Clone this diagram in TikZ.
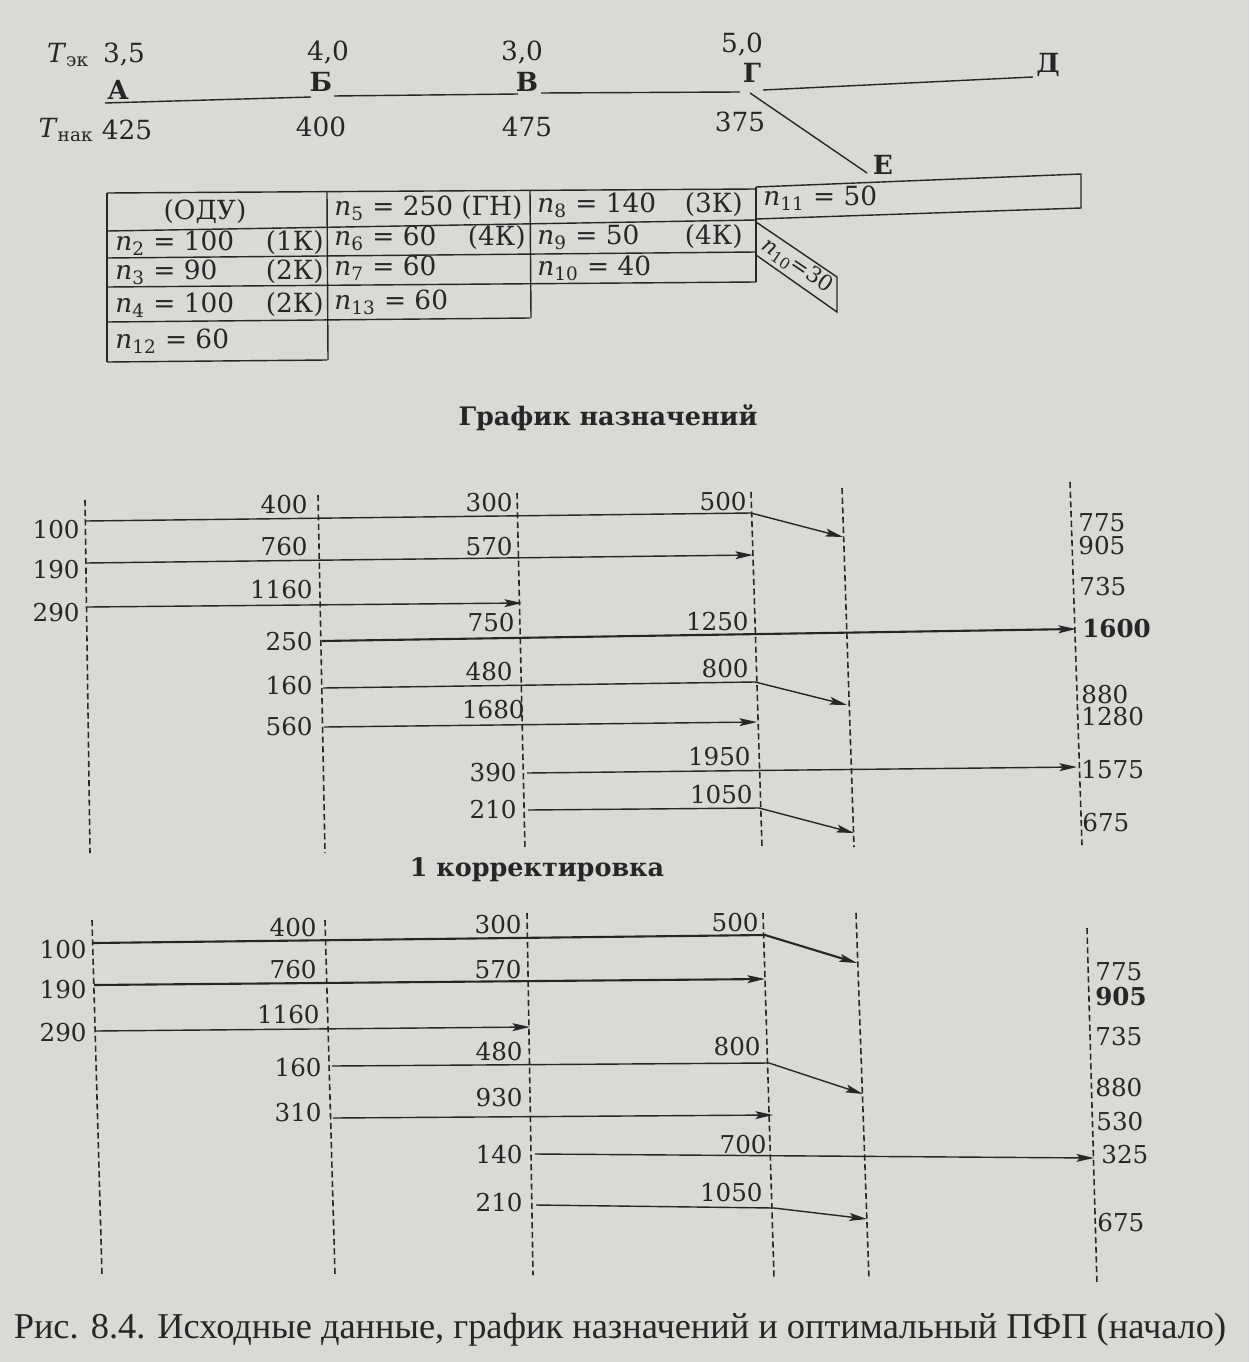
\documentclass[tikz,border=0pt]{standalone}
\usepackage{amsmath}
\usepackage{fontspec}
\setmainfont{DejaVu Serif}
\newfontfamily\capfont{Liberation Serif}
\usetikzlibrary{arrows.meta}
\definecolor{paper}{RGB}{217,217,214}
\definecolor{ink}{RGB}{38,38,38}
\newcommand{\nv}[2]{\textit{n}$_{\text{#1}}$ = #2}

\begin{document}
\begin{tikzpicture}[
x=0.02cm,y=-0.02cm,
>={Stealth[length=10pt,width=4.5pt,inset=2pt]},
top/.style={font=\fontsize{15}{17}\selectfont,text=ink,inner sep=0pt},
letter/.style={font=\bfseries\fontsize{15}{17}\selectfont,text=ink,inner sep=0pt},
cell/.style={font=\fontsize{15}{17}\selectfont,text=ink,inner sep=0pt},
num/.style={font=\fontsize{14}{16}\selectfont,text=ink,inner sep=0pt,anchor=east},
res/.style={font=\fontsize{14}{16}\selectfont,text=ink,inner sep=0pt,anchor=west},
heading/.style={font=\bfseries\fontsize{14.5}{17}\selectfont,text=ink},
road/.style={draw=ink,line width=0.8pt},
grid/.style={draw=ink,line width=0.8pt},
vline/.style={draw=ink,line width=0.9pt,dash pattern=on 3.5pt off 2pt},
flow/.style={->,draw=ink,line width=0.8pt},
mainflow/.style={flow,line width=1.2pt}
]

\useasboundingbox (0,0) rectangle (1249,1362);
\fill[paper] (0,0) rectangle (1249,1362);

\node[top] (tek) at (68,55) {\textit{T}$_{\text{эк}}$};
\node[top] (e35) at (124,55) {3,5};
\node[top] (e40) at (328,53) {4,0};
\node[top] (e30) at (522,53) {3,0};
\node[top] (e50) at (742,45) {5,0};
\node[letter] (stA) at (118,90) {А};
\node[letter] (stB) at (321,82) {Б};
\node[letter] (stV) at (527,82) {В};
\node[letter] (stG) at (752,73) {Г};
\node[letter] (stD) at (1048,65) {Д};
\node[letter] (stE) at (883,165) {Е};
\node[top] (tnak) at (66,130) {\textit{T}$_{\text{нак}}$};
\node[top] (h425) at (127,130) {425};
\node[top] (h400) at (321,127) {400};
\node[top] (h475) at (527,127) {475};
\node[top] (h375) at (740,122) {375};

\coordinate (rA) at (105,103);
\coordinate (rB1) at (311,97);
\coordinate (rB2) at (334,96);
\coordinate (rV1) at (518,94);
\coordinate (rV2) at (541,93);
\coordinate (rG1) at (740,92);
\coordinate (rG2) at (763,90);
\coordinate (rD) at (1033,77);
\coordinate (rGE) at (750,93);
\coordinate (rE) at (867,173);
\draw[road] (rA) -- (rB1);
\draw[road] (rB2) -- (rV1);
\draw[road] (rV2) -- (rG1);
\draw[road] (rG2) -- (rD);
\draw[road] (rGE) -- (rE);

\draw[grid] (107,193) -- (756,189);
\draw[grid] (107,231) -- (756,220);
\draw[grid] (107,258) -- (756,252);
\draw[grid] (107,287) -- (756,282);
\draw[grid] (107,322) -- (530,318);
\draw[grid] (107,362) -- (327,360);
\draw[grid] (107,193) -- (107,362);
\draw[grid] (327,192) -- (328,360);
\draw[grid] (530,190) -- (531,318);
\draw[grid] (756,187) -- (756,282);
\draw[grid] (756,187) -- (1081,174) -- (1081,208) -- (756,219);
\draw[grid] (756,222) -- (837,277) -- (837,312) -- (756,255);

\node[cell] (odu) at (205,212) {(ОДУ)};
\node[cell,anchor=west] (n2) at (115,243) {\nv{2}{100}};
\node[cell,anchor=east] (k2) at (324,243) {(1К)};
\node[cell,anchor=west] (n3) at (115,272) {\nv{3}{90}};
\node[cell,anchor=east] (k3) at (324,272) {(2К)};
\node[cell,anchor=west] (n4) at (115,305) {\nv{4}{100}};
\node[cell,anchor=east] (k4) at (324,305) {(2К)};
\node[cell,anchor=west] (n12) at (115,341) {\nv{12}{60}};
\node[cell,anchor=west] (n5) at (334,208) {\nv{5}{250} (ГН)};
\node[cell,anchor=west] (n6) at (334,238) {\nv{6}{60}};
\node[cell,anchor=east] (k6) at (526,238) {(4К)};
\node[cell,anchor=west] (n7) at (334,268) {\nv{7}{60}};
\node[cell,anchor=west] (n13) at (334,302) {\nv{13}{60}};
\node[cell,anchor=west] (n8) at (537,205) {\nv{8}{140}};
\node[cell,anchor=east] (k8) at (743,205) {(3К)};
\node[cell,anchor=west] (n9) at (537,237) {\nv{9}{50}};
\node[cell,anchor=east] (k9) at (743,237) {(4К)};
\node[cell,anchor=west] (n10) at (537,268) {\nv{10}{40}};
\node[cell,anchor=west] (n11) at (763,198) {\nv{11}{50}};
\node[cell,rotate=-34,font=\fontsize{12.5}{14}\selectfont] (n10d) at (797,266) {\textit{n}$_{\text{10}}$=30};

\node[heading] (plan) at (608,418) {График назначений};

\coordinate (aL1t) at (85,500);
\coordinate (aL1b) at (90,853);
\coordinate (aL2t) at (318,495);
\coordinate (aL2b) at (325,853);
\coordinate (aL3t) at (517,493);
\coordinate (aL3b) at (525,850);
\coordinate (aL4t) at (751,492);
\coordinate (aL4b) at (762,847);
\coordinate (aL5t) at (842,488);
\coordinate (aL5b) at (854,847);
\coordinate (aL6t) at (1070,482);
\coordinate (aL6b) at (1082,845);
\draw[vline] (aL1t) -- (aL1b);
\draw[vline] (aL2t) -- (aL2b);
\draw[vline] (aL3t) -- (aL3b);
\draw[vline] (aL4t) -- (aL4b);
\draw[vline] (aL5t) -- (aL5b);
\draw[vline] (aL6t) -- (aL6b);

\node[num] (a100) at (80,530) {100};
\node[num] (a190) at (80,570) {190};
\node[num] (a290) at (80,613) {290};
\node[num] (a400) at (308,505) {400};
\node[num] (a760) at (308,547) {760};
\node[num] (a1160) at (313,590) {1160};
\node[num] (a250) at (313,642) {250};
\node[num] (a160) at (313,686) {160};
\node[num] (a560) at (313,727) {560};
\node[num] (a300) at (513,503) {300};
\node[num] (a570) at (513,547) {570};
\node[num] (a750) at (515,623) {750};
\node[num] (a480) at (513,672) {480};
\node[num] (a1680) at (525,710) {1680};
\node[num] (a390) at (517,773) {390};
\node[num] (a210) at (517,810) {210};
\node[num] (a500) at (747,502) {500};
\node[num] (a1250) at (749,622) {1250};
\node[num] (a800) at (749,669) {800};
\node[num] (a1950) at (751,757) {1950};
\node[num] (a1050) at (753,795) {1050};
\node[res] (a775) at (1078,523) {775};
\node[res] (a905) at (1078,546) {905};
\node[res] (a735) at (1079,587) {735};
\node[res,font=\bfseries\fontsize{14}{16}\selectfont] (a1600) at (1082,629) {1600};
\node[res] (a880) at (1081,695) {880};
\node[res] (a1280) at (1081,717) {1280};
\node[res] (a1575) at (1081,770) {1575};
\node[res] (a675) at (1082,823) {675};

\coordinate (a1s) at (86,521);
\coordinate (a1m) at (751,513);
\coordinate (a1e) at (843,537);
\coordinate (a2s) at (86,563);
\coordinate (a2e) at (753,555);
\coordinate (a3s) at (87,607);
\coordinate (a3e) at (522,603);
\coordinate (a4s) at (322,641);
\coordinate (a4e) at (1076,629);
\coordinate (a5s) at (323,688);
\coordinate (a5m) at (755,682);
\coordinate (a5e) at (847,705);
\coordinate (a6s) at (324,727);
\coordinate (a6e) at (757,722);
\coordinate (a7s) at (527,773);
\coordinate (a7e) at (1077,767);
\coordinate (a8s) at (528,810);
\coordinate (a8m) at (759,808);
\coordinate (a8e) at (854,833);
\draw[flow] (a1s) -- (a1m) -- (a1e);
\draw[flow] (a2s) -- (a2e);
\draw[flow] (a3s) -- (a3e);
\draw[mainflow] (a4s) -- (a4e);
\draw[flow] (a5s) -- (a5m) -- (a5e);
\draw[flow] (a6s) -- (a6e);
\draw[flow] (a7s) -- (a7e);
\draw[flow] (a8s) -- (a8m) -- (a8e);

\node[heading] (corr) at (537,870) {1 корректировка};

\coordinate (bL1t) at (92,920);
\coordinate (bL1b) at (102,1275);
\coordinate (bL2t) at (325,920);
\coordinate (bL2b) at (335,1275);
\coordinate (bL3t) at (527,913);
\coordinate (bL3b) at (533,1275);
\coordinate (bL4t) at (763,913);
\coordinate (bL4b) at (774,1278);
\coordinate (bL5t) at (856,913);
\coordinate (bL5b) at (869,1280);
\coordinate (bL6t) at (1087,928);
\coordinate (bL6b) at (1097,1285);
\draw[vline] (bL1t) -- (bL1b);
\draw[vline] (bL2t) -- (bL2b);
\draw[vline] (bL3t) -- (bL3b);
\draw[vline] (bL4t) -- (bL4b);
\draw[vline] (bL5t) -- (bL5b);
\draw[vline] (bL6t) -- (bL6b);

\node[num] (b100) at (87,950) {100};
\node[num] (b190) at (87,990) {190};
\node[num] (b290) at (87,1033) {290};
\node[num] (b400) at (317,928) {400};
\node[num] (b760) at (317,970) {760};
\node[num] (b1160) at (320,1015) {1160};
\node[num] (b160) at (322,1068) {160};
\node[num] (b310) at (322,1113) {310};
\node[num] (b300) at (522,925) {300};
\node[num] (b570) at (522,970) {570};
\node[num] (b480) at (523,1052) {480};
\node[num] (b930) at (523,1098) {930};
\node[num] (b140) at (523,1155) {140};
\node[num] (b210) at (523,1203) {210};
\node[num] (b500) at (759,923) {500};
\node[num] (b800) at (761,1047) {800};
\node[num] (b700) at (767,1145) {700};
\node[num] (b1050) at (763,1193) {1050};
\node[res] (b775) at (1095,972) {775};
\node[res,font=\bfseries\fontsize{14}{16}\selectfont] (b905) at (1095,997) {905};
\node[res] (b735) at (1095,1037) {735};
\node[res] (b880) at (1095,1088) {880};
\node[res] (b530) at (1096,1122) {530};
\node[res] (b325) at (1101,1155) {325};
\node[res] (b675) at (1097,1223) {675};

\coordinate (b1s) at (93,943);
\coordinate (b1m) at (765,935);
\coordinate (b1e) at (857,963);
\coordinate (b2s) at (94,985);
\coordinate (b2e) at (765,979);
\coordinate (b3s) at (95,1031);
\coordinate (b3e) at (530,1027);
\coordinate (b4s) at (332,1066);
\coordinate (b4m) at (769,1063);
\coordinate (b4e) at (863,1094);
\coordinate (b5s) at (333,1118);
\coordinate (b5e) at (773,1115);
\coordinate (b6s) at (535,1154);
\coordinate (b6e) at (1094,1158);
\coordinate (b7s) at (536,1205);
\coordinate (b7m) at (774,1208);
\coordinate (b7e) at (867,1219);
\draw[mainflow] (b1s) -- (b1m) -- (b1e);
\draw[mainflow] (b2s) -- (b2e);
\draw[flow] (b3s) -- (b3e);
\draw[flow] (b4s) -- (b4m) -- (b4e);
\draw[flow] (b5s) -- (b5e);
\draw[flow] (b6s) -- (b6e);
\draw[flow] (b7s) -- (b7m) -- (b7e);

\node[text=ink,font=\capfont\fontsize{20.7}{23}\selectfont] (caption) at (620,1330) {Рис. 8.4. Исходные данные, график назначений и оптимальный ПФП (начало)};

\end{tikzpicture}
\end{document}
